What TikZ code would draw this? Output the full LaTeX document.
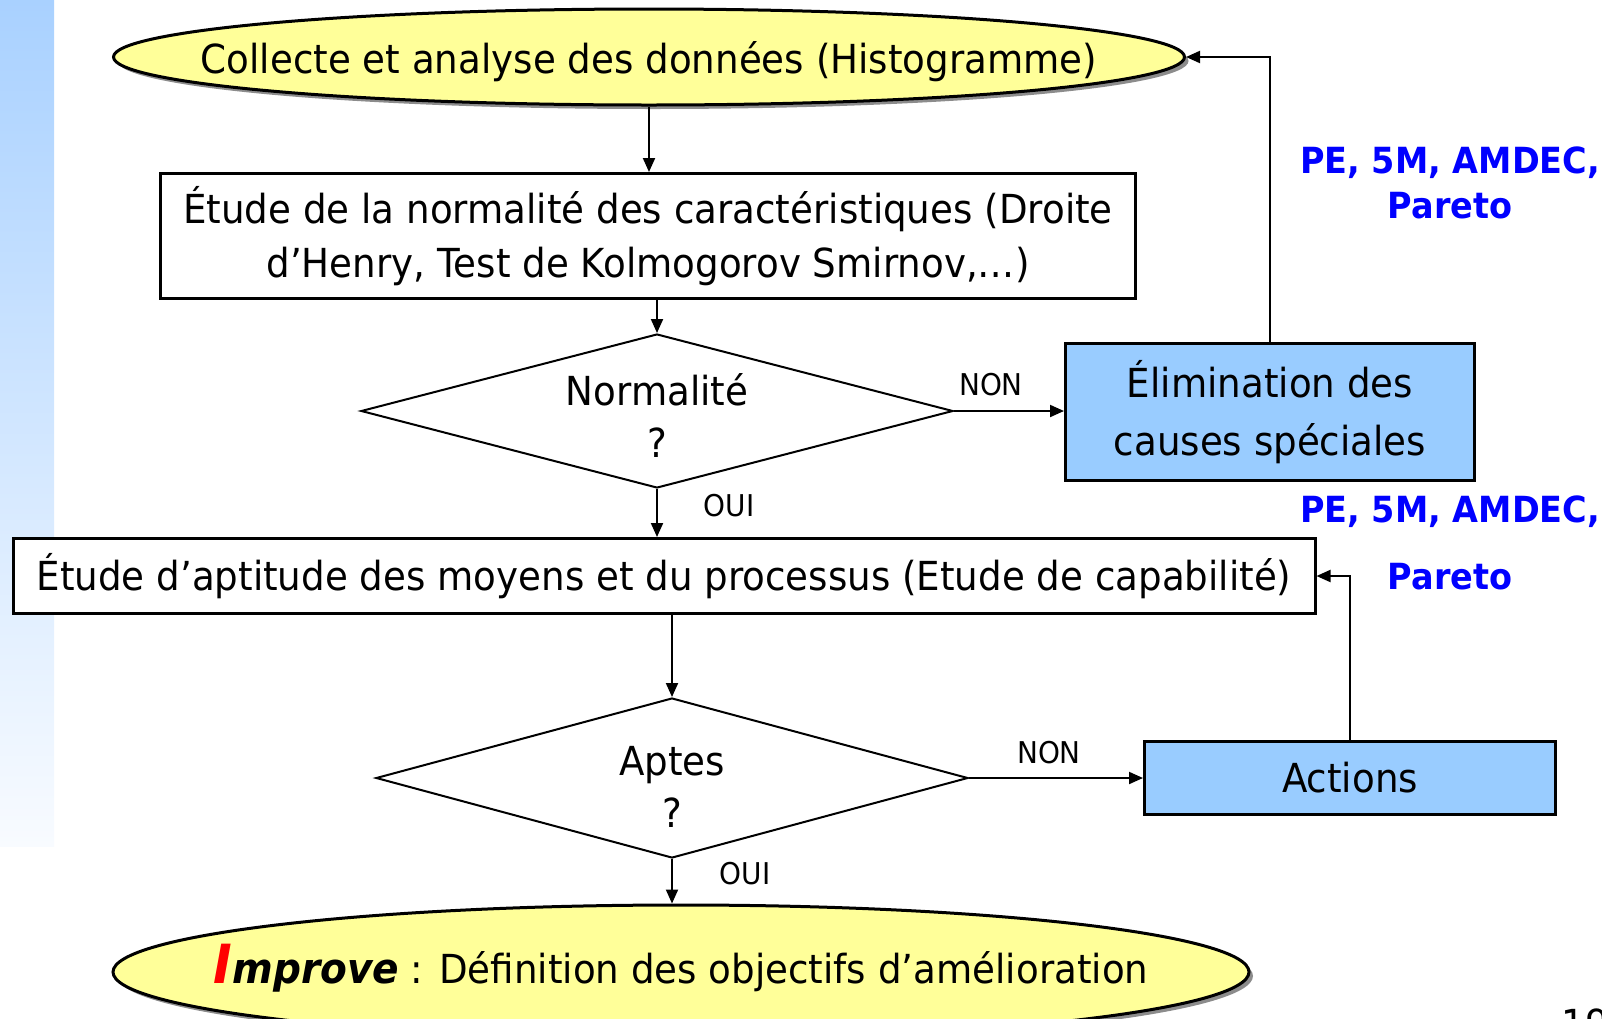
\documentclass[tikz,border=0pt]{standalone}
\usepackage{fontspec}
\setmainfont{DejaVu Sans}[FakeStretch=0.93]
\usetikzlibrary{arrows.meta, positioning, shapes.geometric, shadows}
\definecolor{fcyellow}{HTML}{FFFF99}
\definecolor{fcblue}{HTML}{99CCFF}
\definecolor{fctool}{HTML}{0000FF}
\definecolor{fcstriptop}{HTML}{A9D1FF}
\definecolor{fcstripbot}{HTML}{F8FBFF}

\begin{document}
\begin{tikzpicture}[
      x=0.5pt, y=-0.5pt,
      font=\fontsize{20}{26}\selectfont,
      term/.style={ellipse, draw, line width=1.5pt, fill=fcyellow, inner sep=0pt,
                   drop shadow={shadow xshift=2pt, shadow yshift=-2pt, fill=black!45, opacity=1}},
      proc/.style={rectangle, draw, line width=1.5pt, fill=white, inner sep=0pt, align=center},
      act/.style={proc, fill=fcblue},
      dec/.style={diamond, draw, line width=1pt, fill=white, inner sep=0pt, aspect=3.85, align=center},
      tag/.style={font=\fontsize{15}{18}\selectfont, inner sep=0pt},
      tool/.style={text=fctool, font=\fontsize{18}{22.5}\selectfont\bfseries, align=center, inner sep=0pt},
      ar/.style={-{Triangle[length=7pt,width=6pt]}, line width=1pt},
    ]
    \useasboundingbox (0,0) rectangle (1602,1018);

    % ---------------- background strip
    \shade[top color=fcstriptop, bottom color=fcstripbot] (0,0) rectangle (54,846);

    % ---------------- main column
    \node[term, minimum width=535.5pt, minimum height=48pt] (collect) at (649,57)
      {\makebox[0pt]{\raisebox{-2.5pt}[\height][\depth]{Collecte et analyse des données (Histogramme)}}};
    \node[proc, minimum width=487.5pt, minimum height=62.5pt,
          font=\fontsize{20}{27}\selectfont] (normbox) at (648,236)
      {Étude de la normalité des caractéristiques (Droite\\d’Henry, Test de Kolmogorov Smirnov,…)};
    \node[dec, minimum width=296pt, minimum height=77pt, text height=46pt] (d1) at (657,411) {Normalité\\?};
    \node[proc, minimum width=651pt, minimum height=37.5pt] (aptbox) at (664,576)
      {Étude d’aptitude des moyens et du processus (Etude de capabilité)};
    \node[dec, minimum width=296pt, minimum height=80pt, text height=49pt] (d2) at (672,778) {Aptes\\?};
    \node[term, minimum width=568pt, minimum height=67pt] (improve) at (681,972)
      {\makebox[0pt]{\raisebox{2pt}[\height][\depth]{\textcolor{red}{\fontsize{27}{30}\selectfont\bfseries\itshape I}{\fontsize{21}{26}\selectfont\bfseries\itshape mprove} : Définition des objectifs d’amélioration}}};

    % ---------------- corrective actions
    \node[act, minimum width=204.5pt, minimum height=68.5pt,
          font=\fontsize{20}{29}\selectfont] (elim) at (1270,412) {Élimination des\\causes spéciales};
    \node[act, minimum width=205.5pt, minimum height=36.5pt] (actions) at (1350,778) {Actions};

    % ---------------- connectors
    \draw[ar] (collect.south) -- (collect.south |- normbox.north);
    \draw[ar] (d1.north |- normbox.south) -- (d1.north);
    \draw[ar] (d1.south) -- (d1.south |- aptbox.north);
    \draw[ar] (d2.north |- aptbox.south) -- (d2.north);
    \draw[ar] (d2.south) -- (d2.south |- improve.north);
    \draw[ar] (d1.east) -- (d1.east -| elim.west);
    \draw[ar] (d2.east) -- (d2.east -| actions.west);
    \draw[ar] (elim.north) |- (collect.east);
    \draw[ar] (actions.north) |- (aptbox.east);

    % ---------------- labels
    \node[tag] (non1) at (991,385) {NON};
    \node[tag] (oui1) at (729,506) {OUI};
    \node[tag] (non2) at (1049,753) {NON};
    \node[tag] (oui2) at (745,874) {OUI};
    \node[tool] (tools1) at (1450,183) {PE, 5M, AMDEC,\\Pareto};
    \node[tool] (tools2) at (1450,543) {PE, 5M, AMDEC,\\[11pt]Pareto};
    \node[anchor=north west, inner sep=0pt] (pageno) at (1561,1008) {19};
  \end{tikzpicture}
\end{document}
